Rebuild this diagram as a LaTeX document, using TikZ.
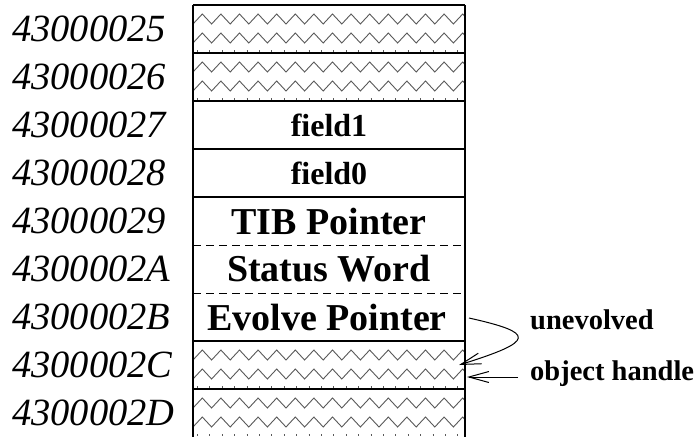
\documentclass[tikz,border=0pt]{standalone}
\usepackage{fontspec}
\setmainfont{Liberation Serif}
\usetikzlibrary{arrows.meta}
\begin{document}
\begin{tikzpicture}[x=1pt,y=-1pt,
  addr/.style={anchor=west,inner sep=0pt,font=\fontsize{38.5}{40}\selectfont\itshape},
  fld/.style={inner sep=0pt,font=\fontsize{38}{40}\selectfont\bfseries},
  fldsmall/.style={inner sep=0pt,font=\fontsize{32}{36}\selectfont\bfseries},
  note/.style={anchor=base west,inner sep=0pt,font=\fontsize{28.5}{32}\selectfont\bfseries},
  cell/.style={line width=1.2pt},
  sep/.style={line width=1pt,dash pattern=on 8pt off 5pt},
  zz/.style={draw=black!65,line width=0.9pt},
  ticks/.style={draw=black!65,line width=2.5pt,dash pattern=on 1pt off 11.4pt},
  ptr/.style={line width=1pt,-{Straight Barb[length=20pt,width=11pt]}}
]
\useasboundingbox (0,0) rectangle (698,437);
% zigzag cells
\begin{scope}
\clip (193,0) rectangle (465,437);
\foreach \t in {5,53,341,389} {
  \foreach \o in {9,28} {
    \draw[zz] (193,\t+\o+10) \foreach \k in {0,...,14} { -- (202.3+18.6*\k,\t+\o) -- (211.6+18.6*\k,\t+\o+10) };
  }
  \draw[ticks] (197,\t+46) -- (465,\t+46);
}
\end{scope}
% box
\draw[cell] (193,5) -- (193,437);
\draw[cell] (465,5) -- (465,437);
\foreach \y in {5,53,101,149,197,341,389} {
  \draw[cell] (193,\y) -- (465,\y);
}
\draw[sep] (193,245) -- (465,245);
\draw[sep] (193,293) -- (465,293);
% addresses
\node[addr] (a25) at (12,29) {43000025};
\node[addr] (a26) at (12,77) {43000026};
\node[addr] (a27) at (12,125) {43000027};
\node[addr] (a28) at (12,173) {43000028};
\node[addr] (a29) at (12,221) {43000029};
\node[addr] (a2A) at (12,269) {4300002A};
\node[addr] (a2B) at (12,317) {4300002B};
\node[addr] (a2C) at (12,365) {4300002C};
\node[addr] (a2D) at (12,413) {4300002D};
% fields
\node[fldsmall] (f1) at (329,125) {field1};
\node[fldsmall] (f0) at (329,173) {field0};
\node[fld] (tib) at (329,221) {TIB Pointer};
\node[fld] (sw) at (329,269) {Status Word};
\node[fld] (ev) at (327,317) {Evolve Pointer};
% notes
\node[note] (unev) at (530,329) {unevolved};
\node[note] (oh) at (530,380) {object handle};
% arrows
\coordinate (evout) at (469,318);
\coordinate (evtip) at (459,365);
\draw[ptr] (evout) .. controls (536,333) and (536,341) .. (evtip);
\coordinate (ohout) at (518,377);
\coordinate (ohtip) at (467,377);
\draw[ptr] (ohout) -- (ohtip);
\end{tikzpicture}
\end{document}
